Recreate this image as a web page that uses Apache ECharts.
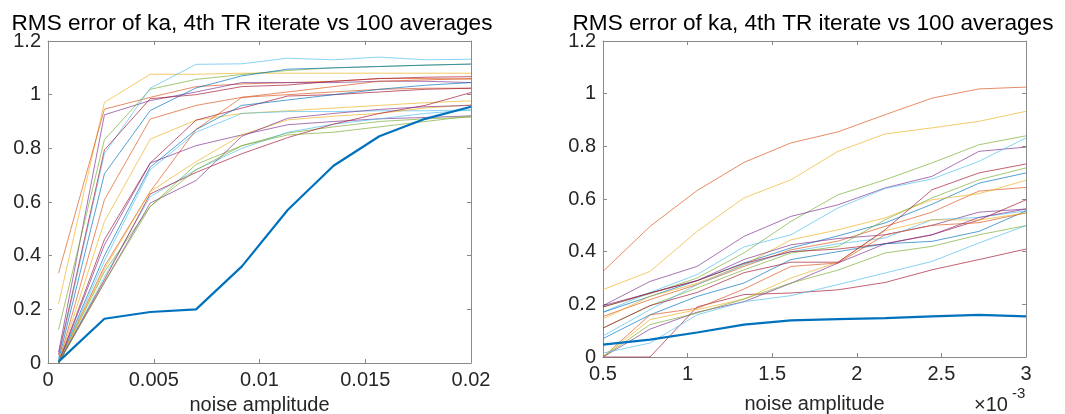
<!DOCTYPE html>
<html>
<head>
<meta charset="utf-8">
<script src="https://cdn.jsdelivr.net/npm/echarts@6/dist/echarts.min.js"></script>
<style>
html,body{margin:0;padding:0;background:#fff;}
#chart{width:1065px;height:414px;}
</style>
</head>
<body>
<div id="chart"></div>
<script>
// ---------- data ----------
const titleText = 'RMS error of ka, 4th TR iterate vs 100 averages';
const xAxisName = 'noise amplitude';
const leftX = [0.0005, 0.002667, 0.004833, 0.007, 0.009167, 0.011333, 0.0135, 0.015667, 0.017833, 0.02];
const rightX = [0.5, 0.778, 1.056, 1.333, 1.611, 1.889, 2.167, 2.444, 2.722, 3.0]; // in units of 1e-3
const leftXTicks = [0, 0.005, 0.01, 0.015, 0.02];
const rightXTicks = [0.5, 1, 1.5, 2, 2.5, 3];
const yTicks = [0, 0.2, 0.4, 0.6, 0.8, 1, 1.2];

const leftThick = [0.005, 0.165, 0.19, 0.20, 0.36, 0.57, 0.735, 0.845, 0.91, 0.955];
const leftThin = [
  [0.22, 0.971, 1.076, 1.076, 1.08, 1.08, 1.08, 1.08, 1.08, 1.08],
  [0.335, 0.946, 0.99, 1.03, 1.04, 1.045, 1.05, 1.06, 1.06, 1.058],
  [0.04, 0.925, 0.978, 1.01, 1.045, 1.045, 1.045, 1.05, 1.05, 1.045],
  [0.124, 0.832, 1.02, 1.057, 1.075, 1.09, 1.10, 1.105, 1.11, 1.114],
  [0.02, 0.78, 1.024, 1.113, 1.115, 1.136, 1.13, 1.14, 1.13, 1.132],
  [0.01, 0.705, 0.941, 1.025, 1.07, 1.095, 1.10, 1.105, 1.11, 1.114],
  [0.03, 0.794, 0.985, 1.00, 1.03, 1.036, 1.05, 1.06, 1.065, 1.067],
  [0.0, 0.608, 0.909, 0.96, 0.99, 1.00, 1.01, 1.02, 1.024, 1.024],
  [0.0, 0.527, 0.834, 0.905, 0.93, 0.94, 0.95, 0.96, 0.97, 0.977],
  [0.0, 0.46, 0.745, 0.905, 0.95, 0.995, 1.00, 1.01, 1.02, 1.024],
  [0.0, 0.40, 0.73, 0.87, 0.96, 0.98, 1.00, 1.02, 1.035, 1.045],
  [0.0, 0.38, 0.72, 0.86, 0.93, 0.937, 0.937, 0.94, 0.94, 0.943],
  [0.0, 0.44, 0.745, 0.81, 0.85, 0.888, 0.90, 0.91, 0.915, 0.921],
  [0.0, 0.36, 0.639, 0.87, 0.99, 1.01, 1.03, 1.05, 1.055, 1.06],
  [0.0, 0.34, 0.583, 0.74, 0.81, 0.857, 0.88, 0.90, 0.91, 0.916],
  [0.0, 0.35, 0.639, 0.75, 0.85, 0.906, 0.92, 0.93, 0.95, 0.962],
  [0.0, 0.32, 0.62, 0.72, 0.80, 0.86, 0.89, 0.91, 0.93, 0.943],
  [0.0, 0.31, 0.63, 0.71, 0.78, 0.84, 0.89, 0.93, 0.96, 1.008],
  [0.0, 0.30, 0.596, 0.68, 0.845, 0.912, 0.93, 0.945, 0.955, 0.96],
  [0.0, 0.30, 0.583, 0.72, 0.81, 0.85, 0.86, 0.88, 0.90, 0.92]
];
const leftColorIdx = [2, 1, 3, 4, 5, 0, 6, 1, 2, 6, 0, 5, 3, 1, 4, 2, 5, 6, 3, 4];

const rightThick = [0.047, 0.066, 0.093, 0.123, 0.139, 0.144, 0.148, 0.154, 0.16, 0.154];
const rightThin = [
  [0.325, 0.496, 0.632, 0.739, 0.813, 0.855, 0.92, 0.983, 1.018, 1.025],
  [0.256, 0.325, 0.477, 0.604, 0.673, 0.781, 0.847, 0.87, 0.895, 0.933],
  [0.19, 0.24, 0.30, 0.395, 0.515, 0.616, 0.673, 0.737, 0.806, 0.84],
  [0.195, 0.287, 0.344, 0.458, 0.534, 0.578, 0.642, 0.686, 0.781, 0.797],
  [0.17, 0.245, 0.313, 0.418, 0.464, 0.566, 0.64, 0.676, 0.743, 0.832],
  [0.0, 0.0, 0.19, 0.237, 0.243, 0.255, 0.283, 0.331, 0.37, 0.41],
  [0.17, 0.23, 0.29, 0.357, 0.414, 0.46, 0.509, 0.58, 0.66, 0.699],
  [0.154, 0.218, 0.275, 0.344, 0.407, 0.44, 0.496, 0.55, 0.63, 0.644],
  [0.145, 0.23, 0.28, 0.35, 0.445, 0.483, 0.528, 0.597, 0.62, 0.671],
  [0.195, 0.243, 0.29, 0.37, 0.426, 0.45, 0.464, 0.5, 0.55, 0.562],
  [0.11, 0.195, 0.262, 0.331, 0.395, 0.42, 0.521, 0.604, 0.673, 0.718],
  [0.08, 0.18, 0.275, 0.35, 0.40, 0.43, 0.452, 0.521, 0.53, 0.555],
  [0.19, 0.243, 0.29, 0.355, 0.40, 0.41, 0.43, 0.464, 0.52, 0.597],
  [0.07, 0.16, 0.23, 0.281, 0.37, 0.40, 0.43, 0.439, 0.477, 0.555],
  [0.0, 0.16, 0.185, 0.258, 0.344, 0.357, 0.464, 0.5, 0.51, 0.547],
  [0.0, 0.142, 0.18, 0.22, 0.30, 0.36, 0.48, 0.521, 0.52, 0.547],
  [0.0, 0.106, 0.17, 0.21, 0.28, 0.357, 0.43, 0.464, 0.53, 0.562],
  [0.0, 0.123, 0.167, 0.22, 0.281, 0.33, 0.395, 0.42, 0.464, 0.499],
  [0.015, 0.053, 0.16, 0.21, 0.233, 0.275, 0.319, 0.363, 0.433, 0.499],
  [0.11, 0.195, 0.245, 0.32, 0.36, 0.36, 0.483, 0.635, 0.699, 0.733]
];
const rightColorIdx = [1, 2, 4, 3, 5, 6, 0, 1, 2, 3, 4, 5, 6, 0, 1, 2, 3, 4, 5, 6];

// ---------- styles ----------
const palette = ['#0072BD', '#D95319', '#EDB120', '#7E2F8E', '#77AC30', '#4DBEEE', '#A2142F'];
const FONT = '"Liberation Sans", Arial, Helvetica, sans-serif';
const axisGray = '#8a8a8a';
const textColor = '#262626';
const tickFont = 20;

function fmt(v) { return String(+(+v).toFixed(6)); }

function makeX(grid, ticks, position, showLabels, withName, nameGap) {
  return {
    type: 'value', gridIndex: grid, position: position,
    min: ticks[0], max: ticks[ticks.length - 1], interval: ticks[1] - ticks[0],
    axisLine: { show: true, onZero: false, lineStyle: { color: axisGray, width: 1 } },
    axisTick: { show: true, inside: true, length: 4, lineStyle: { color: axisGray } },
    axisLabel: { show: showLabels, margin: 7, color: textColor, fontSize: tickFont, fontFamily: FONT, formatter: fmt },
    splitLine: { show: false },
    name: withName ? xAxisName : '', nameLocation: 'middle', nameGap: nameGap || 32,
    nameTextStyle: { color: textColor, fontSize: tickFont, fontFamily: FONT }
  };
}
function makeY(grid, position, showLabels) {
  return {
    type: 'value', gridIndex: grid, position: position,
    min: yTicks[0], max: yTicks[yTicks.length - 1], interval: yTicks[1] - yTicks[0],
    axisLine: { show: true, onZero: false, lineStyle: { color: axisGray, width: 1 } },
    axisTick: { show: true, inside: true, length: 4, lineStyle: { color: axisGray } },
    axisLabel: { show: showLabels, margin: 7, color: textColor, fontSize: tickFont, fontFamily: FONT, formatter: fmt },
    splitLine: { show: false }
  };
}

const series = [];
function addSeries(xs, thin, colorIdx, thick, xi, yi) {
  thin.forEach((ys, i) => {
    series.push({
      type: 'line', xAxisIndex: xi, yAxisIndex: yi, symbol: 'none', silent: true,
      data: xs.map((x, k) => [x, ys[k]]),
      lineStyle: { color: palette[colorIdx[i]], width: 0.9, opacity: 0.75 },
      z: 2
    });
  });
  series.push({
    type: 'line', xAxisIndex: xi, yAxisIndex: yi, symbol: 'none', silent: true,
    data: xs.map((x, k) => [x, thick[k]]),
    lineStyle: { color: palette[0], width: 2.2 },
    z: 3
  });
}
addSeries(leftX, leftThin, leftColorIdx, leftThick, 0, 0);
addSeries(rightX, rightThin, rightColorIdx, rightThick, 2, 2);

const chart = echarts.init(document.getElementById('chart'), null, { renderer: 'canvas' });
chart.setOption({
  animation: false,
  backgroundColor: '#ffffff',
  grid: [
    { left: 48, top: 41, width: 423, height: 322, containLabel: false, outerBoundsMode: 'none' },
    { left: 603, top: 41, width: 423, height: 316, containLabel: false, outerBoundsMode: 'none' }
  ],
  xAxis: [
    makeX(0, leftXTicks, 'bottom', true, true, 32),
    makeX(0, leftXTicks, 'top', false, false),
    makeX(1, rightXTicks, 'bottom', true, true, 37),
    makeX(1, rightXTicks, 'top', false, false)
  ],
  yAxis: [
    makeY(0, 'left', true),
    makeY(0, 'right', false),
    makeY(1, 'left', true),
    makeY(1, 'right', false)
  ],
  series: series,
  graphic: [
    { type: 'text', x: 252, y: 12, style: { text: titleText, fill: '#000', font: '22.6px ' + FONT, textAlign: 'center', textVerticalAlign: 'top' } },
    { type: 'text', x: 813, y: 12, style: { text: titleText, fill: '#000', font: '22.6px ' + FONT, textAlign: 'center', textVerticalAlign: 'top' } },
    { type: 'text', x: 974, y: 395, style: { text: '\u00d710', fill: textColor, font: '20px ' + FONT, textAlign: 'left', textVerticalAlign: 'top' } },
    { type: 'text', x: 1012, y: 386, style: { text: '-3', fill: textColor, font: '15px ' + FONT, textAlign: 'left', textVerticalAlign: 'top' } }
  ]
});
</script>
</body>
</html>
